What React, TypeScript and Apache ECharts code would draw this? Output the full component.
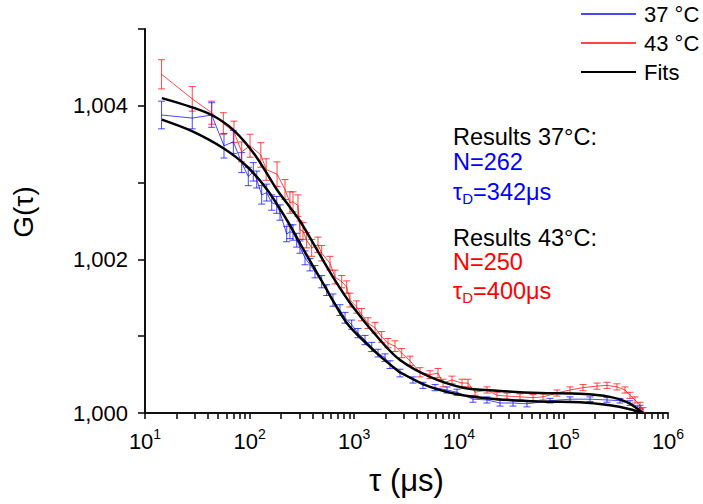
import { useEffect, useRef } from 'react';
import * as echarts from 'echarts';

// ---- data ----
const tau37 = [14.4, 28.3, 43.4, 56.9, 69.9, 84.0, 97.2, 108.5, 117, 130.5, 145.7, 162.7, 181.6, 195.3, 226.3, 243, 260, 282, 303, 338.5, 378, 422, 489, 546, 627, 731, 817, 946, 1087, 1269, 1470, 1689, 1970, 2199, 2741, 3648, 4547, 5923, 7715, 9612, 13670, 18600, 24770, 32980, 44870, 74460, 115700, 179600, 261100, 347600, 433000, 540000];
const g37 = [1.00388, 1.00384, 1.00388, 1.00348, 1.00353, 1.00326, 1.00308, 1.00314, 1.00304, 1.00284, 1.00287, 1.00274, 1.00271, 1.00261, 1.00233, 1.00236, 1.00235, 1.00225, 1.00216, 1.00202, 1.00193, 1.00184, 1.00171, 1.0016, 1.00147, 1.00134, 1.00124, 1.00115, 1.00104, 1.00095, 1.00086, 1.00078, 1.00072, 1.00063, 1.00052, 1.00043, 1.00036, 1.00033, 1.0003, 1.00027, 1.00018, 1.00017, 1.00013, 1.00013, 1.00012, 1.00016, 1.00018, 1.00018, 1.00017, 1.00016, 1.00013, 1.00007];
const err37 = [0.00018, 0.00014, 0.00016, 0.00016, 0.00015, 0.00013, 0.00012, 0.00012, 0.00011, 0.00012, 0.00011, 0.0001, 0.00011, 0.0001, 0.0001, 0.00009, 0.0001, 0.00009, 0.00008, 0.00009, 0.00008, 0.00008, 0.00008, 0.00007, 0.00008, 0.00007, 0.00007, 0.00006, 0.00006, 0.00006, 0.00006, 0.00005, 0.00005, 0.00005, 0.00005, 0.00004, 0.00004, 0.00004, 0.00004, 0.00004, 0.00004, 0.00004, 0.00004, 0.00004, 0.00004, 0.00003, 0.00003, 0.00003, 0.00003, 0.00003, 0.00003, 0.00003];

const tau43 = [14.4, 28.3, 43.4, 56.1, 70.9, 84.0, 101, 128, 144, 183, 218, 243, 260, 290, 303, 324, 351, 392, 451, 489, 587, 655, 760, 848, 912, 1057, 1179, 1355, 1581, 1832, 2104, 2455, 2845, 3417, 4258, 5305, 6326, 7063, 8610, 10730, 12250, 14290, 18600, 23190, 28900, 38470, 51220, 63830, 86850, 115700, 154000, 209600, 261100, 325400, 388000, 433000, 483600, 540000, 576800];
const g43 = [1.00441, 1.00409, 1.00391, 1.00377, 1.00366, 1.0034, 1.00348, 1.00336, 1.00317, 1.00311, 1.00291, 1.00274, 1.00275, 1.0027, 1.00238, 1.00237, 1.00225, 1.00215, 1.00219, 1.00208, 1.00195, 1.00177, 1.00171, 1.00164, 1.00147, 1.00138, 1.00128, 1.00117, 1.00111, 1.00099, 1.00091, 1.00087, 1.00078, 1.00068, 1.00053, 1.0005, 1.00052, 1.00039, 1.00043, 1.00039, 1.00039, 1.00027, 1.0003, 1.00023, 1.00022, 1.00021, 1.0002, 1.00021, 1.00026, 1.0003, 1.00033, 1.00035, 1.00036, 1.00034, 1.0003, 1.00023, 1.00017, 1.0001, 1.00004];
const err43 = [0.00019, 0.00016, 0.00015, 0.00014, 0.00014, 0.00013, 0.00015, 0.00016, 0.00014, 0.00016, 0.00013, 0.00014, 0.00013, 0.00014, 0.00012, 0.00011, 0.0001, 0.00011, 0.0001, 0.0001, 0.00009, 0.00009, 0.00008, 0.00008, 0.00009, 0.00008, 0.00008, 0.00007, 0.00007, 0.00007, 0.00006, 0.00007, 0.00006, 0.00006, 0.00006, 0.00005, 0.00006, 0.00005, 0.00005, 0.00005, 0.00005, 0.00004, 0.00004, 0.00004, 0.00004, 0.00004, 0.00004, 0.00004, 0.00004, 0.00004, 0.00004, 0.00004, 0.00004, 0.00004, 0.00004, 0.00004, 0.00004, 0.00004, 0.00003];

const fitTau37 = [14.5, 28.1, 55.7, 94.4, 146.7, 227.8, 303, 503, 853, 1416, 1765, 2350, 2741, 5305, 10970, 23190, 59740, 144100, 279000, 433000, 576800];
const fitG37 = [1.00382, 1.00367, 1.00345, 1.00321, 1.00291, 1.00251, 1.00221, 1.00169, 1.00117, 1.00086, 1.00074, 1.0006, 1.00053, 1.00034, 1.00023, 1.00018, 1.00015, 1.00014, 1.0001, 1.00005, 1.0];

const fitTau43 = [14.5, 26.9, 43.4, 69.4, 112.6, 182, 243, 303, 406, 627, 974, 1765, 2741, 5305, 10970, 23190, 59740, 144100, 279000, 405500, 576800];
const fitG43 = [1.0041, 1.00399, 1.00388, 1.00369, 1.00336, 1.00291, 1.00268, 1.0025, 1.00221, 1.00177, 1.00138, 1.00095, 1.00069, 1.00047, 1.00033, 1.00029, 1.00026, 1.00025, 1.00021, 1.00014, 1.0];

const xMajorTicks = [10, 100, 1000, 10000, 100000, 1000000];
const xMinorTicks = [20, 30, 40, 50, 60, 70, 80, 90, 200, 300, 400, 500, 600, 700, 800, 900, 2000, 3000, 4000, 5000, 6000, 7000, 8000, 9000, 20000, 30000, 40000, 50000, 60000, 70000, 80000, 90000, 200000, 300000, 400000, 500000, 600000, 700000, 800000, 900000];
const yMajorTicks = [1.0, 1.002, 1.004];
const yMinorTicks = [1.001, 1.003, 1.005];

const FONT = 'Liberation Sans, Arial, sans-serif';
const BLUE = '#0000ff';
const RED = '#ff0000';
const AXIS = '#111';

const errRender = (color: string) => (params: any, api: any) => {
  const x = api.value(0);
  const y = api.value(1);
  const e = api.value(2);
  const top = api.coord([x, y + e]);
  const bot = api.coord([x, y - e]);
  const hw = 3.5;
  const style = { stroke: color, lineWidth: 1, opacity: 0.72 };
  return {
    type: 'group',
    children: [
      { type: 'line', shape: { x1: top[0], y1: top[1], x2: bot[0], y2: bot[1] }, style },
      { type: 'line', shape: { x1: top[0] - hw, y1: top[1], x2: top[0] + hw, y2: top[1] }, style },
      { type: 'line', shape: { x1: bot[0] - hw, y1: bot[1], x2: bot[0] + hw, y2: bot[1] }, style },
    ],
  };
};

export default function App() {
  const ref = useRef<HTMLDivElement>(null);
  useEffect(() => {
    const chart = echarts.init(ref.current!, null, { renderer: 'svg' });
    const axisLine = { show: true, lineStyle: { color: AXIS, width: 2 } };
    const xAllTicks = [...xMajorTicks, ...xMinorTicks].sort((a, b) => a - b);
    const yAllTicks = [...yMajorTicks, ...yMinorTicks].sort((a, b) => a - b);
    const option: any = {
      animation: false,
      backgroundColor: '#fff',
      textStyle: { fontFamily: FONT },
      grid: { left: 145, right: 35, top: 29, bottom: 91, containLabel: false },
      legend: {
        orient: 'vertical',
        left: 580,
        top: 3,
        padding: 0,
        itemWidth: 55,
        itemHeight: 22,
        itemGap: 7,
        itemStyle: { opacity: 0 },
        textStyle: { fontSize: 22, color: '#000', fontFamily: FONT, padding: [0, 0, 0, 3] },
        data: ['37 °C', '43 °C', 'Fits'],
      },
      xAxis: {
        type: 'log',
        logBase: 10,
        min: xMajorTicks[0],
        max: xMajorTicks[xMajorTicks.length - 1],
        position: 'bottom',
        name: 'τ (μs)',
        nameLocation: 'middle',
        nameGap: 52,
        nameTextStyle: { fontSize: 31, color: '#000', fontFamily: FONT },
        axisLine,
        axisTick: { show: true, inside: false, length: 6, customValues: xAllTicks, lineStyle: { color: AXIS, width: 1.6 } },
        axisLabel: {
          show: true,
          margin: 14,
          customValues: xMajorTicks,
          formatter: (v: number) => `{b|10}{s|${Math.round(Math.log10(v))}}`,
          rich: {
            b: { fontSize: 22, lineHeight: 28, color: '#000', fontFamily: FONT },
            s: { fontSize: 14, lineHeight: 14, verticalAlign: 'top', color: '#000', fontFamily: FONT },
          },
        },
        splitLine: { show: false },
      },
      yAxis: {
        type: 'value',
        min: 1.0,
        max: 1.005,
        position: 'left',
        name: 'G(τ)',
        nameLocation: 'middle',
        nameGap: 108,
        nameTextStyle: { fontSize: 28, color: '#000', fontFamily: FONT, padding: [0, 0, 0, 18] },
        axisLine,
        axisTick: { show: true, inside: false, length: 7, customValues: yAllTicks, lineStyle: { color: AXIS, width: 1.6 } },
        axisLabel: {
          show: true,
          margin: 17,
          customValues: yMajorTicks,
          fontSize: 22,
          color: '#000',
          fontFamily: FONT,
          formatter: (v: number) => v.toFixed(3).replace('.', ','),
        },
        splitLine: { show: false },
      },
      series: [
        {
          name: 'err37',
          type: 'custom',
          coordinateSystem: 'cartesian2d',
          renderItem: errRender(BLUE),
          data: tau37.map((t, i) => [t, g37[i], err37[i]]),
          clip: true,
        },
        {
          name: 'err43',
          type: 'custom',
          coordinateSystem: 'cartesian2d',
          renderItem: errRender(RED),
          data: tau43.map((t, i) => [t, g43[i], err43[i]]),
          clip: true,
        },
        {
          name: '37 °C',
          type: 'line',
          data: tau37.map((t, i) => [t, g37[i]]),
          symbol: 'none',
          showSymbol: false,
          color: BLUE,
          lineStyle: { color: BLUE, width: 1, opacity: 0.72 },
          z: 3,
        },
        {
          name: '43 °C',
          type: 'line',
          data: tau43.map((t, i) => [t, g43[i]]),
          symbol: 'none',
          showSymbol: false,
          color: RED,
          lineStyle: { color: RED, width: 1, opacity: 0.72 },
          z: 3,
        },
        {
          name: 'Fits',
          type: 'line',
          data: fitTau37.map((t, i) => [t, fitG37[i]]),
          symbol: 'none',
          showSymbol: false,
          smooth: 0.3,
          color: '#000',
          lineStyle: { color: '#000', width: 2.5 },
          z: 4,
        },
        {
          name: 'Fits',
          type: 'line',
          data: fitTau43.map((t, i) => [t, fitG43[i]]),
          symbol: 'none',
          showSymbol: false,
          smooth: 0.3,
          color: '#000',
          lineStyle: { color: '#000', width: 2.5 },
          z: 4,
        },
      ],
      graphic: [
        { type: 'text', left: 453, top: 125, style: { text: 'Results 37°C:', fontSize: 23.5, fill: '#000', fontFamily: FONT } },
        { type: 'text', left: 453, top: 150, style: { text: 'N=262', fontSize: 23.5, fill: BLUE, fontFamily: FONT } },
        {
          type: 'text', left: 453, top: 180,
          style: {
            text: '{t|τ}{d|D}{t|=342μs}', fill: BLUE, fontFamily: FONT,
            rich: {
              t: { fontSize: 23.5, lineHeight: 27, fill: BLUE, fontFamily: FONT },
              d: { fontSize: 15, lineHeight: 14, verticalAlign: 'bottom', fill: BLUE, fontFamily: FONT },
            },
          },
        },
        { type: 'text', left: 453, top: 226, style: { text: 'Results 43°C:', fontSize: 23.5, fill: '#000', fontFamily: FONT } },
        { type: 'text', left: 453, top: 250, style: { text: 'N=250', fontSize: 23.5, fill: RED, fontFamily: FONT } },
        {
          type: 'text', left: 453, top: 279,
          style: {
            text: '{t|τ}{d|D}{t|=400μs}', fill: RED, fontFamily: FONT,
            rich: {
              t: { fontSize: 23.5, lineHeight: 27, fill: RED, fontFamily: FONT },
              d: { fontSize: 15, lineHeight: 14, verticalAlign: 'bottom', fill: RED, fontFamily: FONT },
            },
          },
        },
      ],
    };
    chart.setOption(option);
    return () => chart.dispose();
  }, []);
  return <div ref={ref} style={{ position: 'absolute', left: 0, top: 0, width: 703, height: 504 }} />;
}
